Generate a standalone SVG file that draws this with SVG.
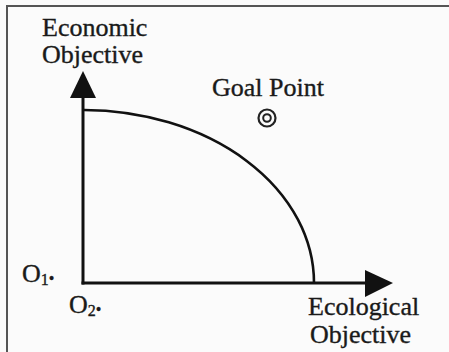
<svg xmlns="http://www.w3.org/2000/svg" width="449" height="352" viewBox="0 0 449 352">
<style>
.t{font-family:"Liberation Serif","Times New Roman","DejaVu Serif",serif;font-size:26px;fill:#1a1a1a;stroke:#1a1a1a;stroke-width:0.35}
.sub{font-size:16px}
.ax{stroke:#111;stroke-width:3;fill:none}
.head{fill:#111}
.frame{stroke:#555;stroke-width:2;fill:none}
</style>
<rect width="449" height="352" fill="#fbfbfb"/>
<g id="frame">
<path class="frame" d="M7,352 V6 H449"/>
</g>
<g id="connectors">
<line class="ax" x1="83" y1="284.5" x2="83" y2="96"/>
<polygon class="head" points="83,71 70,98 96,98"/>
<line class="ax" x1="81.5" y1="283" x2="367" y2="283"/>
<polygon class="head" points="393,283 365,270 365,297"/>
<path id="frontier" d="M84,110 A231,173 0 0 1 314,283" stroke="#111" stroke-width="2.6" fill="none"/>
</g>
<g id="economic-objective">
<text class="t" x="42" y="36">Economic</text>
<text class="t" x="42" y="63">Objective</text>
</g>
<g id="ecological-objective">
<text class="t" x="308" y="315">Ecological</text>
<text class="t" x="310" y="343">Objective</text>
</g>
<g id="goal-point">
<text class="t" x="212" y="96">Goal Point</text>
<circle cx="267" cy="118" r="8.5" fill="none" stroke="#222" stroke-width="2.2"/>
<circle cx="267" cy="118" r="3.8" fill="none" stroke="#222" stroke-width="2"/>
</g>
<g id="o1">
<text class="t" x="22" y="282">O<tspan class="sub" dy="3">1</tspan><tspan class="sub" dy="-1">•</tspan></text>
</g>
<g id="o2">
<text class="t" x="69" y="313">O<tspan class="sub" dy="3">2</tspan><tspan class="sub" dy="-1">•</tspan></text>
</g>
</svg>
